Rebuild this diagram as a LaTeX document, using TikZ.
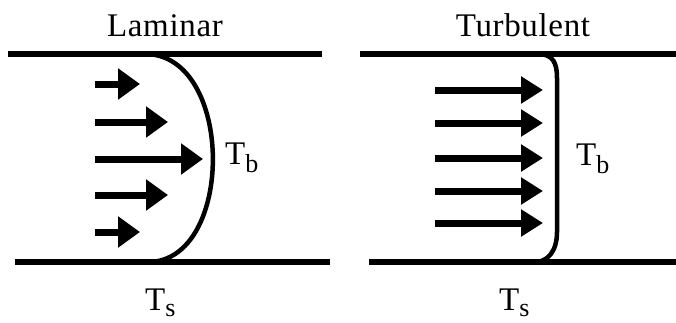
\documentclass[tikz,border=0pt]{standalone}
\usepackage{fontspec}
\setmainfont{Liberation Serif}
\usetikzlibrary{arrows.meta}
\begin{document}
\begin{tikzpicture}[x=1pt,y=-1pt,
  wall/.style={line width=6pt},
  prof/.style={line width=4.5pt},
  vel/.style={line width=7pt,-{Triangle[length=22pt,width=30pt]}},
  velt/.style={line width=7pt,-{Triangle[length=22pt,width=26pt]}},
  ttl/.style={inner sep=0pt,anchor=base,font=\fontsize{33}{33}\selectfont\addfontfeatures{LetterSpace=2}},
  lbl/.style={inner sep=0pt,anchor=base west,font=\fontsize{33}{33}\selectfont}]
\useasboundingbox (0,0) rectangle (676,322);
% Laminar panel
\node[ttl] (lam) at (165,36) {Laminar};
\draw[wall] (8,54) -- (322,54);
\draw[wall] (15,262) -- (330,262);
\draw[prof] (145,54) .. controls (235,54) and (235,262) .. (148,262);
\draw[vel] (95,84) -- (140,84);
\draw[vel] (95,122) -- (168,122);
\draw[vel] (95,159) -- (203,159);
\draw[vel] (95,195) -- (168,195);
\draw[vel] (95,232) -- (140,232);
\node[lbl] (tbl) at (225,164) {T\raisebox{-8pt}{\fontsize{26}{26}\selectfont b}};
\node[lbl] (tsl) at (145,310) {T\raisebox{-6pt}{\fontsize{26}{26}\selectfont s}};
% Turbulent panel
\node[ttl] (tur) at (523,36) {Turbulent};
\draw[wall] (360,54) -- (676,54);
\draw[wall] (369,262) -- (676,262);
\draw[prof] (540,54) .. controls (553,55) and (557,63) .. (557,78) -- (557,232) .. controls (557,252) and (547,262) .. (535,262);
\foreach \yy in {90,123,158,191,223}
  \draw[velt] (435,\yy) -- (543,\yy);
\node[lbl] (tbr) at (576,165) {T\raisebox{-8pt}{\fontsize{26}{26}\selectfont b}};
\node[lbl] (tsr) at (499,310) {T\raisebox{-6pt}{\fontsize{26}{26}\selectfont s}};
\end{tikzpicture}
\end{document}
